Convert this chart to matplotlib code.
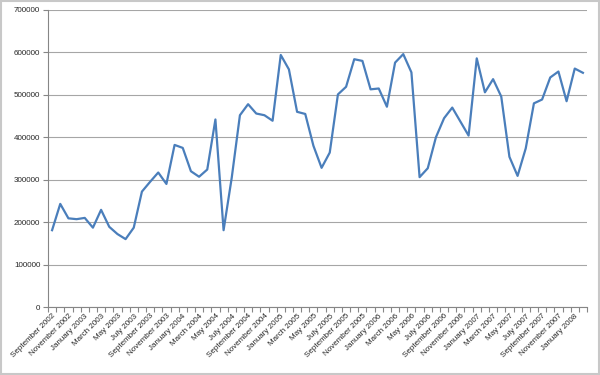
import matplotlib
matplotlib.use("Agg")
import matplotlib.pyplot as plt
import numpy as np

# monthly values, September 2002 .. February 2008
months = ["January", "February", "March", "April", "May", "June", "July",
          "August", "September", "October", "November", "December"]
labels = []
for k in range(66):
    m = (8 + k) % 12
    y = 2002 + (8 + k) // 12
    labels.append(f"{months[m]} {y}")

values = [181000, 243000, 209000, 207000, 210000, 187000, 229000, 189000, 172000, 160000,
          187000, 272000, 295000, 317000, 290000, 382000, 375000, 320000, 307000, 324000,
          442000, 181000, 305000, 452000, 478000, 456000, 452000, 439000, 594000, 560000,
          460000, 455000, 380000, 328000, 364000, 501000, 519000, 584000, 580000, 513000,
          515000, 472000, 576000, 596000, 553000, 306000, 327000, 400000, 445000, 470000,
          437000, 404000, 586000, 506000, 537000, 496000, 354000, 309000, 374000, 480000,
          489000, 541000, 555000, 485000, 562000, 552000]

yticks = list(range(0, 700001, 100000))

plt.rcParams['font.family'] = ['Liberation Sans', 'DejaVu Sans']

fig = plt.figure(figsize=(6, 3.75), dpi=100)
fig.patch.set_facecolor('white')
ax = fig.add_axes([48/600, 1 - 307/375, 539/600, 297/375])

x = np.arange(len(values))
ax.plot(x, values, color='#4A7EBB', lw=1.6, solid_joinstyle='round', zorder=3)

ax.set_xlim(-0.5, len(values) - 0.5)
ax.set_ylim(0, 700000)
ax.set_yticks(yticks)
ax.set_yticklabels([str(v) for v in yticks], fontsize=5.8, color='#262626')
ax.yaxis.grid(True, color='#a6a6a6', lw=0.8)
ax.set_axisbelow(True)

# tick marks between categories, labels every second month
ax.set_xticks(np.arange(-0.5, len(values)), minor=True)
ax.set_xticks(x[::2])
ax.set_xticklabels(labels[::2], rotation=45, ha='right', rotation_mode='anchor',
                   fontsize=5.8, color='#262626')
ax.tick_params(axis='x', which='major', length=0, pad=4)
ax.tick_params(axis='x', which='minor', length=3.5, color='#868686', width=0.8)
ax.tick_params(axis='y', length=3.5, color='#868686', width=0.8, pad=2)

for s in ['top', 'right']:
    ax.spines[s].set_visible(False)
for s in ['left', 'bottom']:
    ax.spines[s].set_color('#868686')
    ax.spines[s].set_linewidth(0.8)

# chart area border
fig.add_artist(plt.Rectangle((0.002, 0.003), 0.996, 0.994, transform=fig.transFigure,
                             fill=False, edgecolor='#c8c8c8', lw=1.5))

fig.savefig('out.png', dpi=100)
